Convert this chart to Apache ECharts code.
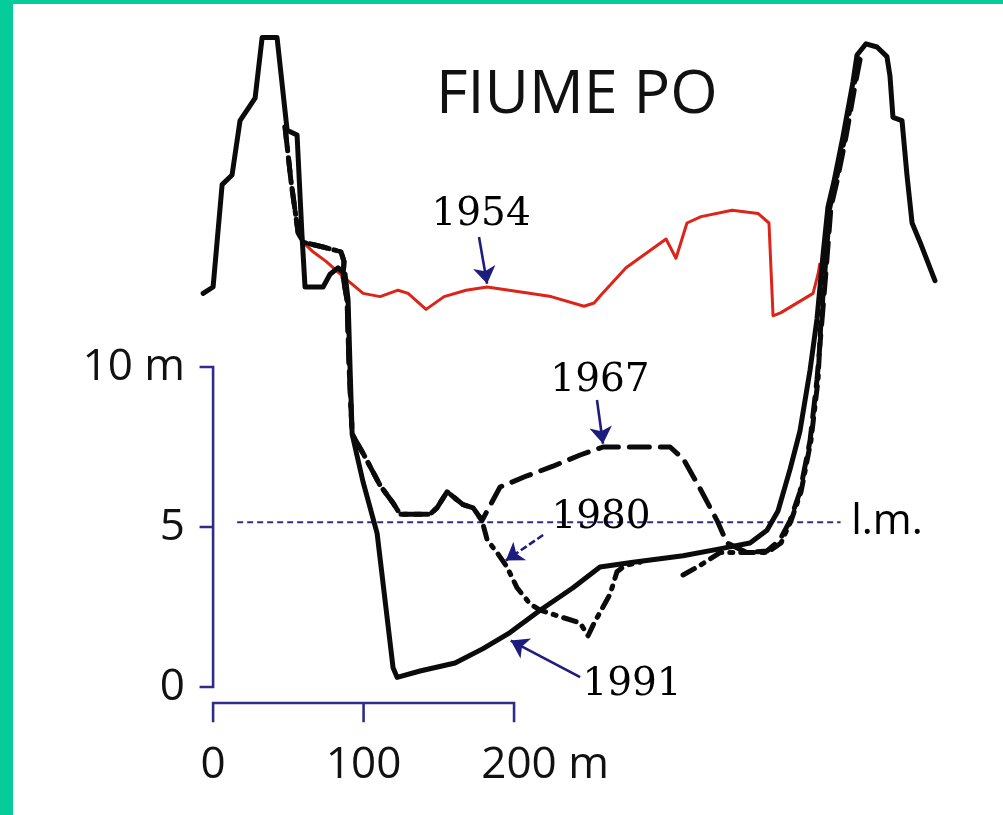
<!DOCTYPE html>
<html>
<head>
<meta charset="utf-8">
<script src="https://cdn.jsdelivr.net/npm/echarts@6/dist/echarts.min.js"></script>
<style>
  html, body { margin: 0; padding: 0; background: #fff; }
  #wrap { position: relative; width: 1003px; height: 815px; overflow: hidden; }
  #chart { position: absolute; left: 0; top: 0; width: 1003px; height: 815px; }
  .bl { position: absolute; left: 0; top: 0; width: 13px; height: 815px; background: #05CC98; z-index: 5; }
  .bt { position: absolute; left: 0; top: 0; width: 1003px; height: 4px; background: #05CC98; z-index: 5; }
</style>
</head>
<body>
<div id="wrap">
  <div id="chart"></div>
  <div class="bl"></div>
  <div class="bt"></div>
</div>
<script>
// ---- Data (metres: [distance across, elevation]) ----
const profile1991 = [
  [-6.6,12.3],[0,12.5],[6.0,15.7],[12.6,16.0],[17.9,17.7],[27.9,18.4],[32.6,20.3],[42.5,20.3],
  [49.2,17.4],[55.8,17.25],[59.1,14.1],[61.1,12.5],[73.1,12.5],[77.7,12.9],[83.1,13.1],[87.7,12.9],
  [89.7,12.1],[91.0,10.0],[92.4,7.9],[99.7,6.4],[109.0,4.8],[119.6,0.6],[122.3,0.3],[137.5,0.5],
  [160.8,0.75],[179.4,1.2],[197.3,1.7],[217.3,2.4],[239.2,3.1],[257.1,3.75],[279.1,3.9],[312.3,4.1],
  [334.9,4.3],[356.8,4.5],[368.1,4.9],[375.4,5.5],[383.4,6.8],[390.0,8.0],[396.7,9.9],[401.3,11.5],
  [405.3,13.5],[408.6,15.0],[412.6,15.8],[418.6,17.2],[425.2,18.9],[427.9,19.75],[433.9,20.1],
  [441.2,20.0],[447.8,19.7],[449.8,19.1],[451.8,17.8],[457.8,17.7],[461.1,16.0],[464.5,14.5],
  [469.8,13.9],[479.7,12.7]
];
const profile1967 = [
  [47.8,17.5],[51.8,15.8],[56.5,14.2],[59.8,13.9],[73.1,13.75],[85.0,13.6],[87.0,13.3],[86.4,12.8],
  [89.0,12.1],[90.4,10.0],[92.4,7.9],[99.7,7.3],[111.0,6.3],[119.6,5.75],[124.3,5.4],[144.2,5.4],
  [148.8,5.6],[155.5,6.1],[160.8,5.9],[166.1,5.7],[172.8,5.6],[178.7,5.2],
  [190.7,6.25],[208.6,6.6],[225.9,6.9],[243.9,7.25],[259.1,7.5],[303.7,7.5],[308.3,7.3],[311.6,7.2],
  [323.6,6.2],[334.9,5.2],[341.5,4.5],[354.8,4.2],[368.1,4.25],[376.7,4.6],[383.4,5.2],[390.0,6.1],
  [396.7,7.7],[401.3,9.6],[404.7,11.5],[407.3,13.0],[410.6,15.0],[414.6,15.8],[420.6,17.2],
  [426.6,18.8],[429.9,19.6]
];
const profile1980a = [
  [47.8,17.5],[51.8,15.8],[56.5,14.2],[59.8,13.9],[73.1,13.75],[85.0,13.6],[87.0,13.3],[86.4,12.8],
  [89.0,12.1],[90.4,10.0],[92.4,7.9],[99.7,7.3],[111.0,6.3],[119.6,5.75],[124.3,5.4],[144.2,5.4],
  [148.8,5.6],[155.5,6.1],[160.8,5.9],[166.1,5.7],[172.8,5.6],[178.7,5.2],
  [182.1,4.6],[188.7,4.2],[195.3,3.75],[202.0,3.1],[210.6,2.6],[217.3,2.4],[230.6,2.2],[243.9,2.0],
  [249.2,1.6],[253.2,2.0],[259.1,2.5],[263.8,2.9],[268.4,3.6],[273.8,3.8],[283.7,3.9]
];
const profile1980b = [
  [312.3,3.5],[323.6,3.8],[336.9,4.2],[354.8,4.2],[368.1,4.2],[377.4,4.5],[384.1,5.2],[390.7,6.1],
  [397.3,7.7],[402.0,9.6],[404.0,11.5],[406.6,13.0],[409.9,15.0],[413.9,15.8],[419.9,17.2],
  [425.9,18.8],[429.2,19.7]
];
const profile1954 = [
  [59.8,13.9],[66.4,13.6],[75.1,13.3],[87.0,12.8],[99.7,12.3],[111.0,12.2],[122.9,12.4],[129.6,12.3],
  [141.5,11.8],[153.5,12.2],[168.1,12.4],[182.1,12.5],[196.7,12.4],[224.6,12.2],[246.5,11.9],
  [253.2,12.0],[257.8,12.25],[274.4,13.1],[301.0,14.0],[307.6,13.4],[314.9,14.5],[324.3,14.7],
  [344.9,14.9],[362.1,14.8],[369.4,14.5],[372.1,11.6],[377.4,11.7],[398.7,12.3],[402.0,12.9],
  [403.3,13.25]
];
const meanLevel = [[16,5.15],[417,5.15]];          // l.m. (livello medio)
const xTicks = [0, 100, 200];
const yTicks = [0, 5, 10];
const yearLabels = [
  { name: '1954', value: [178.1, 14.75] },
  { name: '1967', value: [257.1, 9.56] },
  { name: '1980', value: [257.8, 5.3] },
  { name: '1991', value: [278.4, 0.06] }
];
const lmLabel = [{ name: 'l.m.', value: [447.8, 5.15] }];
const arrows = [
  { coords: [[176.7,14.06],[182.1,12.6]], dashed: false },
  { coords: [[255.1,8.97],[259.1,7.6]], dashed: false },
  { coords: [[219.3,4.75],[194.5,3.95]], dashed: true },
  { coords: [[243.9,0.31],[197.8,1.45]], dashed: false }
];

// ---- Chart ----
const NAVY = '#2e2e8a';
const chart = echarts.init(document.getElementById('chart'), null, { renderer: 'canvas' });

const yBar = [{ coords: [[-9,10],[0,10],[0,0],[-9,0]] }, { coords: [[-9,5],[0,5]] }];
const xBar = [{ coords: [[0,-1.1],[0,-0.5],[200,-0.5],[200,-1.1]] }, { coords: [[100,-0.5],[100,-1.1]] }];

const blackLine = (w, type) => ({ color: '#0b0b0b', width: w, type: type, cap: 'round', join: 'round' });
const labelText = (family, size) => ({
  show: true, position: 'inside', formatter: '{b}',
  fontFamily: family, fontSize: size, color: '#000', opacity: 1, textBorderWidth: 0
});

chart.setOption({
  backgroundColor: '#ffffff',
  animation: false,
  title: {
    text: 'FIUME PO',
    left: 431, top: 60,
    textStyle: { fontFamily: 'Open Sans', fontSize: 61, fontWeight: 'normal', color: '#111' }
  },
  grid: { left: 183, right: 37.5, top: 15, bottom: 80, containLabel: false, outerBoundsMode: 'none' },
  xAxis: {
    type: 'value', min: -20, max: 500, interval: 10,
    axisLine: { show: false }, axisTick: { show: false }, splitLine: { show: false },
    axisLabel: {
      margin: 8, fontFamily: 'Open Sans', fontSize: 44, color: '#111',
      formatter: v => xTicks.includes(v) ? (v === 200 ? '{p|}' + v + ' m' : String(v)) : '',
      rich: { p: { width: 62 } }
    }
  },
  yAxis: {
    type: 'value', min: -1.5, max: 21, interval: 0.5,
    axisLine: { show: false }, axisTick: { show: false }, splitLine: { show: false },
    axisLabel: {
      margin: -2, fontFamily: 'Open Sans', fontSize: 44, color: '#111',
      formatter: v => yTicks.includes(v) ? (v === 10 ? v + ' m' : String(v)) : ''
    }
  },
  series: [
    { type: 'line', name: '1954', data: profile1954, symbol: 'none', z: 3,
      lineStyle: { color: '#dc2419', width: 3, join: 'round' } },
    { type: 'line', name: 'l.m.', data: meanLevel, symbol: 'none', z: 2,
      lineStyle: { color: NAVY, width: 2, type: [6, 4] } },
    { type: 'line', name: '1991', data: profile1991, symbol: 'none', z: 4, lineStyle: blackLine(5, 'solid') },
    { type: 'line', name: '1967', data: profile1967, symbol: 'none', z: 4, lineStyle: blackLine(5, [20, 11]) },
    { type: 'line', name: '1980', data: profile1980a, symbol: 'none', z: 4, lineStyle: blackLine(5, [13, 8, 3, 8]) },
    { type: 'line', name: '1980b', data: profile1980b, symbol: 'none', z: 4, lineStyle: blackLine(5, [13, 8, 3, 8]) },
    { type: 'lines', coordinateSystem: 'cartesian2d', polyline: true, data: yBar.concat(xBar), z: 2,
      lineStyle: { color: NAVY, width: 2.6, opacity: 1 } },
    { type: 'lines', coordinateSystem: 'cartesian2d', z: 5,
      symbol: ['none', 'arrow'], symbolSize: 17,
      data: arrows.map(a => ({ coords: a.coords, lineStyle: { type: a.dashed ? [7, 3] : 'solid' } })),
      lineStyle: { color: '#1d1d7e', width: 2.6, opacity: 1 } },
    { type: 'scatter', data: yearLabels, symbolSize: 1, z: 6,
      itemStyle: { color: 'rgba(255,255,255,0)' },
      label: labelText('DejaVu Serif', 39) },
    { type: 'scatter', data: lmLabel, symbolSize: 1, z: 6,
      itemStyle: { color: 'rgba(255,255,255,0)' },
      label: labelText('Open Sans', 42) }
  ]
});
</script>
</body>
</html>
